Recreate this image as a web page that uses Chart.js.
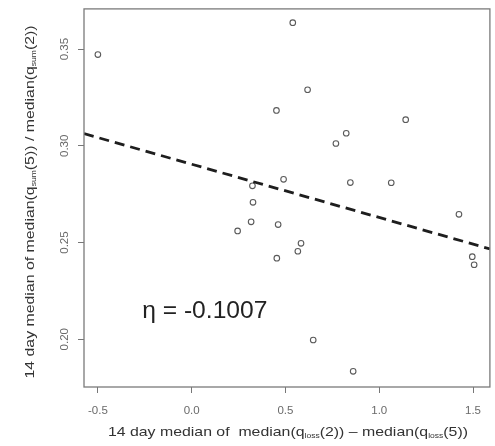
<!DOCTYPE html>
<html>
<head>
<meta charset="utf-8">
<script src="https://cdn.jsdelivr.net/npm/chart.js@4.4.1/dist/chart.umd.min.js"></script>
<style>
  html, body { margin: 0; padding: 0; background: #fff; }
  .wrap { width: 495px; height: 446px; position: relative; }
</style>
</head>
<body>
<div class="wrap"><canvas id="scatter"></canvas></div>
<script>
const xValues = [-0.50, 0.539, 0.618, 0.452, 1.141, 0.824, 0.769, 0.490, 0.846, 1.064, 0.324, 0.327,
  1.425, 0.317, 0.461, 0.245, 0.583, 0.566, 0.454, 1.496, 1.506, 0.648, 0.861];
const yValues = [0.3472, 0.3637, 0.3290, 0.3183, 0.3135, 0.3065, 0.3012, 0.2827, 0.2810, 0.2809, 0.2793, 0.2708,
  0.2646, 0.2607, 0.2593, 0.2560, 0.2496, 0.2455, 0.2419, 0.2427, 0.2385, 0.1996, 0.1834];

// fitted line (dashed) endpoints
const fitX = [-0.574, 1.59];
const fitY = [0.3063, 0.2467];

const xTicks = [-0.5, 0.0, 0.5, 1.0, 1.5];
const yTicks = [0.20, 0.25, 0.30, 0.35];

const etaLabel = 'η = -0.1007';
const etaPos = { x: 0.07, y: 0.214 };

const xTitle = [
  { t: '14 day median of  median(q' }, { t: 'loss', sub: true }, { t: '(2)) \u2013 median(q' },
  { t: 'loss', sub: true }, { t: '(5))' }
];
const yTitle = [
  { t: '14 day median of median(q' }, { t: 'sum', sub: true }, { t: '(5)) / median(q' },
  { t: 'sum', sub: true }, { t: '(2))' }
];

const FONT = '"Liberation Sans", Arial, sans-serif';

// the reference text is a bit wide, so titles are stretched horizontally
function drawRich(ctx, parts, cx, cy, stretch) {
  const mainFont = '13px ' + FONT;
  const subFont = '7px ' + FONT;
  let total = 0;
  parts.forEach(p => {
    ctx.font = p.sub ? subFont : mainFont;
    p.w = ctx.measureText(p.t).width;
    total += p.w;
  });
  ctx.save();
  ctx.translate(cx, cy);
  ctx.scale(stretch, 1);
  let x = -total / 2;
  ctx.textAlign = 'left';
  ctx.textBaseline = 'middle';
  parts.forEach(p => {
    ctx.font = p.sub ? subFont : mainFont;
    ctx.fillText(p.t, x, p.sub ? 4 : 0);
    x += p.w;
  });
  ctx.restore();
}

const framePlugin = {
  id: 'frame',
  afterDraw(chart) {
    const { ctx, chartArea: a, scales } = chart;
    ctx.save();
    ctx.strokeStyle = '#7a7a7a';
    ctx.lineWidth = 1.3;
    ctx.strokeRect(a.left, a.top, a.right - a.left, a.bottom - a.top);

    ctx.fillStyle = '#222';
    ctx.font = '23px ' + FONT;
    ctx.textAlign = 'center';
    ctx.textBaseline = 'middle';
    ctx.save();
    ctx.translate(scales.x.getPixelForValue(etaPos.x), scales.y.getPixelForValue(etaPos.y));
    ctx.scale(1.07, 1);
    ctx.fillText(etaLabel, 0, 0);
    ctx.restore();

    ctx.fillStyle = '#333';
    drawRich(ctx, xTitle, (a.left + a.right) / 2 + 1, 432, 1.22);
    ctx.translate(30, (a.top + a.bottom) / 2 + 4);
    ctx.rotate(-Math.PI / 2);
    drawRich(ctx, yTitle, 0, 0, 1.22);
    ctx.restore();
  }
};

const ctx = document.getElementById('scatter');

new Chart(ctx, {
  type: 'scatter',
  data: {
    datasets: [
      {
        type: 'line',
        data: fitX.map((x, i) => ({ x, y: fitY[i] })),
        borderColor: '#1e1e1e',
        borderWidth: 2.8,
        borderDash: [10, 6],
        pointRadius: 0,
        fill: false
      },
      {
        data: xValues.map((x, i) => ({ x, y: yValues[i] })),
        pointRadius: 2.8,
        pointBorderWidth: 1.1,
        pointBorderColor: '#5a5a5a',
        pointBackgroundColor: 'rgba(0,0,0,0)'
      }
    ]
  },
  options: {
    responsive: true,
    maintainAspectRatio: false,
    animation: false,
    events: [],
    layout: { padding: { top: 7, right: 2, left: 0, bottom: 0 } },
    plugins: {
      legend: { display: false },
      tooltip: { enabled: false }
    },
    scales: {
      x: {
        type: 'linear',
        min: -0.574,
        max: 1.59,
        afterBuildTicks: (scale) => { scale.ticks = xTicks.map(v => ({ value: v })); },
        afterFit: (scale) => { scale.height = 59; },
        border: { display: false },
        grid: { drawOnChartArea: false, drawTicks: true, tickLength: 6, color: '#777', lineWidth: 1 },
        ticks: {
          color: '#6a6a6a',
          padding: 11,
          font: { family: FONT, size: 11.5 },
          callback: (v) => Number(v).toFixed(1)
        }
      },
      y: {
        type: 'linear',
        min: 0.1753,
        max: 0.3708,
        afterBuildTicks: (scale) => { scale.ticks = yTicks.map(v => ({ value: v })); },
        afterFit: (scale) => { scale.width = 84; },
        border: { display: false },
        grid: { drawOnChartArea: false, drawTicks: true, tickLength: 6, color: '#777', lineWidth: 1 },
        ticks: {
          color: '#6a6a6a',
          padding: 2,
          minRotation: 90,
          maxRotation: 90,
          crossAlign: 'center',
          font: { family: FONT, size: 11.5 },
          callback: (v) => Number(v).toFixed(2)
        }
      }
    }
  },
  plugins: [framePlugin]
});
</script>
</body>
</html>
